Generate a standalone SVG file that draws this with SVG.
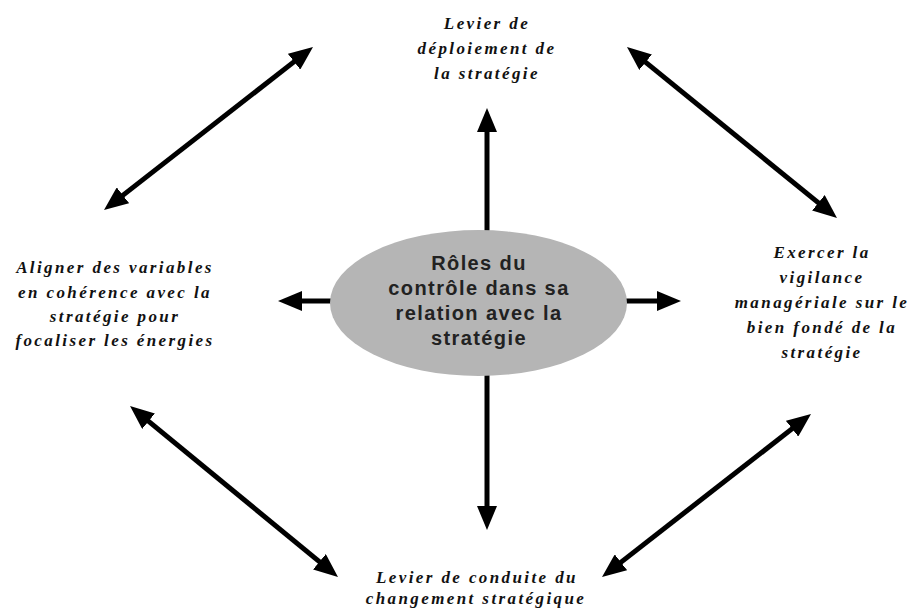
<svg xmlns="http://www.w3.org/2000/svg" width="915" height="612" viewBox="0 0 915 612">
<style>
.c{stroke:#000;stroke-width:5;fill:none;marker-start:url(#ah);marker-end:url(#ah)}
.s{stroke:#000;stroke-width:5;fill:none;marker-end:url(#ah)}
.lbl{font-family:"Liberation Serif",serif;font-style:italic;font-weight:bold;font-size:17px;letter-spacing:2.4px;fill:#111;text-anchor:middle}
.ctr{font-family:"Liberation Sans",Arial,sans-serif;font-weight:bold;font-size:20px;letter-spacing:1.4px;fill:#222;text-anchor:middle}
</style>
<defs>
<marker id="ah" viewBox="0 0 24 20" refX="16" refY="10" markerWidth="24" markerHeight="20" markerUnits="userSpaceOnUse" orient="auto-start-reverse">
<path d="M0,0 L24,10 L0,20 z" fill="#000"/>
</marker>
</defs>
<rect width="915" height="612" fill="#fff"/>
<g id="connectors">
<line class="c" x1="110.3" y1="205.1" x2="306.7" y2="51.9"/>
<line class="c" x1="633.2" y1="52.1" x2="830.8" y2="212.9"/>
<line class="c" x1="136.2" y1="411.1" x2="331.8" y2="571.9"/>
<line class="c" x1="804.7" y1="418.9" x2="608.3" y2="572.1"/>
<line class="s" x1="487" y1="240" x2="487" y2="116"/>
<line class="s" x1="487" y1="366" x2="487" y2="522"/>
<line class="s" x1="340" y1="301" x2="286" y2="301"/>
<line class="s" x1="617" y1="301" x2="673" y2="301"/>
</g>
<g id="center">
<ellipse cx="478.5" cy="303" rx="148.5" ry="73" fill="#b5b5b5"/>
<text class="ctr" x="479" y="270">Rôles du</text>
<text class="ctr" x="479" y="295">contrôle dans sa</text>
<text class="ctr" x="479" y="320">relation avec la</text>
<text class="ctr" x="479" y="345">stratégie</text>
</g>
<g id="top">
<text class="lbl" x="487" y="29">Levier de</text>
<text class="lbl" x="487" y="54">déploiement  de</text>
<text class="lbl" x="487" y="79">la stratégie</text>
</g>
<g id="left">
<text class="lbl" x="115" y="273">Aligner des variables</text>
<text class="lbl" x="115" y="298">en cohérence avec la</text>
<text class="lbl" x="115" y="322">stratégie pour</text>
<text class="lbl" x="115" y="346">focaliser les énergies</text>
</g>
<g id="right">
<text class="lbl" x="822" y="258">Exercer la</text>
<text class="lbl" x="822" y="283">vigilance</text>
<text class="lbl" x="822" y="308">managériale sur le</text>
<text class="lbl" x="822" y="333">bien fondé de la</text>
<text class="lbl" x="822" y="358">stratégie</text>
</g>
<g id="bottom">
<text class="lbl" x="477" y="583">Levier de conduite du</text>
<text class="lbl" x="476" y="604">changement stratégique</text>
</g>
</svg>
